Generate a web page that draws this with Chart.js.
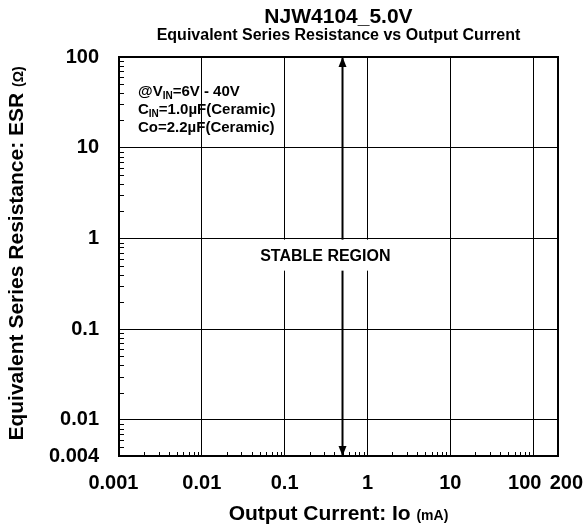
<!DOCTYPE html>
<html>
<head>
<meta charset="utf-8">
<script src="https://cdn.jsdelivr.net/npm/chart.js@4.4.1/dist/chart.umd.min.js"></script>
<style>
  html, body { margin: 0; padding: 0; background: #fff; }
  #wrap { width: 587px; height: 529px; }
</style>
</head>
<body>
<div id="wrap"><canvas id="graph" width="587" height="529"></canvas></div>
<script>
// data
const stableCurrent = [0.5, 0.5];
const stableEsr = [0.004, 100];
const xTicks = [0.001, 0.01, 0.1, 1, 10, 100, 200];
const xTickLabels = ["0.001  ", "0.01", "0.1", "1", "10", "100   ", "   200"];
const yTicks = [0.004, 0.01, 0.1, 1, 10, 100];
const labelPos = { x: 0.31, y: 0.63 };

const FONT = "'Liberation Sans', Arial, Helvetica, sans-serif";

// draws text pieces one after another, some of them as subscripts / smaller
function drawRuns(ctx, runs, x, y) {
  let cx = x;
  runs.forEach(r => {
    ctx.font = "bold " + r.size + "px " + FONT;
    ctx.fillText(r.t, cx, y + (r.dy || 0));
    cx += ctx.measureText(r.t).width;
  });
  return cx;
}
function runsWidth(ctx, runs) {
  let w = 0;
  runs.forEach(r => {
    ctx.font = "bold " + r.size + "px " + FONT;
    w += ctx.measureText(r.t).width;
  });
  return w;
}

const decor = {
  id: "decor",
  afterDraw(chart) {
    const ctx = chart.ctx;
    const a = chart.chartArea;
    const xs = chart.scales.x, ys = chart.scales.y;
    ctx.save();
    ctx.fillStyle = "#000";
    ctx.strokeStyle = "#000";

    // frame
    ctx.lineWidth = 2;
    ctx.strokeRect(a.left, a.top, a.right - a.left, a.bottom - a.top);

    // minor ticks
    ctx.lineWidth = 1;
    ctx.beginPath();
    for (let e = -3; e <= 2; e++) {
      for (let m = 2; m <= 9; m++) {
        const v = m * Math.pow(10, e);
        if (v > ys.min && v < ys.max) {
          const py = Math.round(ys.getPixelForValue(v)) + 0.5;
          ctx.moveTo(a.left, py); ctx.lineTo(a.left + 5, py);
        }
        if (v > xs.min && v < xs.max) {
          const px = Math.round(xs.getPixelForValue(v)) + 0.5;
          ctx.moveTo(px, a.bottom); ctx.lineTo(px, a.bottom - 4);
        }
      }
    }
    ctx.stroke();

    // stable region label on white box
    const lx = xs.getPixelForValue(labelPos.x);
    const ly = ys.getPixelForValue(labelPos.y);
    ctx.font = "bold 16px " + FONT;
    const tw = ctx.measureText("STABLE REGION").width;
    ctx.fillStyle = "#fff";
    ctx.fillRect(lx - tw / 2 - 8, ly - 17, tw + 16, 31);
    ctx.fillStyle = "#000";
    ctx.textAlign = "center";
    ctx.textBaseline = "middle";
    ctx.fillText("STABLE REGION", lx, ly);

    // arrow heads
    const pts = chart.getDatasetMeta(0).data;
    pts.forEach((p, i) => {
      const dir = stableEsr[i] > stableEsr[1 - i] ? -1 : 1;
      ctx.beginPath();
      ctx.moveTo(p.x, p.y);
      ctx.lineTo(p.x - 4, p.y - dir * 10);
      ctx.lineTo(p.x + 4, p.y - dir * 10);
      ctx.closePath();
      ctx.fill();
    });

    // titles
    const cxm = (a.left + a.right) / 2;
    ctx.textAlign = "center";
    ctx.textBaseline = "alphabetic";
    ctx.font = "bold 21px " + FONT;
    ctx.fillText("NJW4104_5.0V", cxm, 23);
    ctx.font = "bold 16px " + FONT;
    ctx.fillText("Equivalent Series Resistance vs Output Current", cxm, 40);

    // conditions
    ctx.textAlign = "left";
    const cx0 = 138;
    drawRuns(ctx, [{ t: "@V", size: 15 }, { t: "IN", size: 10, dy: 3 }, { t: "=6V - 40V", size: 15 }], cx0, 96);
    drawRuns(ctx, [{ t: "C", size: 15 }, { t: "IN", size: 10, dy: 3 }, { t: "=1.0\u00b5F(Ceramic)", size: 15 }], cx0, 114);
    drawRuns(ctx, [{ t: "Co=2.2\u00b5F(Ceramic)", size: 15 }], cx0, 132);

    // x axis title
    const xr = [{ t: "Output Current: Io ", size: 21 }, { t: "(mA)", size: 14 }];
    drawRuns(ctx, xr, cxm - runsWidth(ctx, xr) / 2, 520);

    // y axis title
    const yr = [{ t: "Equivalent Series Resistance: ESR ", size: 21 }, { t: "(\u03a9)", size: 14 }];
    ctx.translate(23, (a.top + a.bottom) / 2 - 3);
    ctx.rotate(-Math.PI / 2);
    drawRuns(ctx, yr, -runsWidth(ctx, yr) / 2, 0);
    ctx.restore();
  }
};

new Chart(document.querySelector("#graph"), {
  type: "line",
  data: {
    datasets: [{
      data: stableCurrent.map((c, i) => ({ x: c, y: stableEsr[i] })),
      borderColor: "#000",
      borderWidth: 2,
      pointRadius: 0,
      fill: false
    }]
  },
  options: {
    responsive: false,
    animation: false,
    devicePixelRatio: 1,
    layout: { padding: { top: 57, right: 29, left: 0, bottom: 0 } },
    plugins: { legend: { display: false }, tooltip: { enabled: false } },
    scales: {
      x: {
        type: "logarithmic",
        min: 0.001, max: 200,
        afterBuildTicks: s => { s.ticks = xTicks.map(v => ({ value: v })); },
        afterFit: s => { s.height = 73; s.paddingLeft = 0; s.paddingRight = 0; },
        grid: { color: "#000", lineWidth: 1, drawTicks: false },
        border: { color: "#000", width: 2 },
        ticks: {
          color: "#000", padding: 15, maxRotation: 0, autoSkip: false,
          font: { family: FONT, size: 20, weight: "bold" },
          callback: (v, i) => xTickLabels[i]
        }
      },
      y: {
        type: "logarithmic",
        min: 0.004, max: 100,
        afterBuildTicks: s => { s.ticks = yTicks.map(v => ({ value: v })); },
        afterFit: s => { s.width = 119; s.paddingTop = 0; s.paddingBottom = 0; },
        grid: { color: "#000", lineWidth: 1, drawTicks: false },
        border: { color: "#000", width: 2 },
        ticks: {
          color: "#000", padding: 20, autoSkip: false,
          font: { family: FONT, size: 20, weight: "bold" },
          callback: v => String(v)
        }
      }
    }
  },
  plugins: [decor]
});
</script>
</body>
</html>
